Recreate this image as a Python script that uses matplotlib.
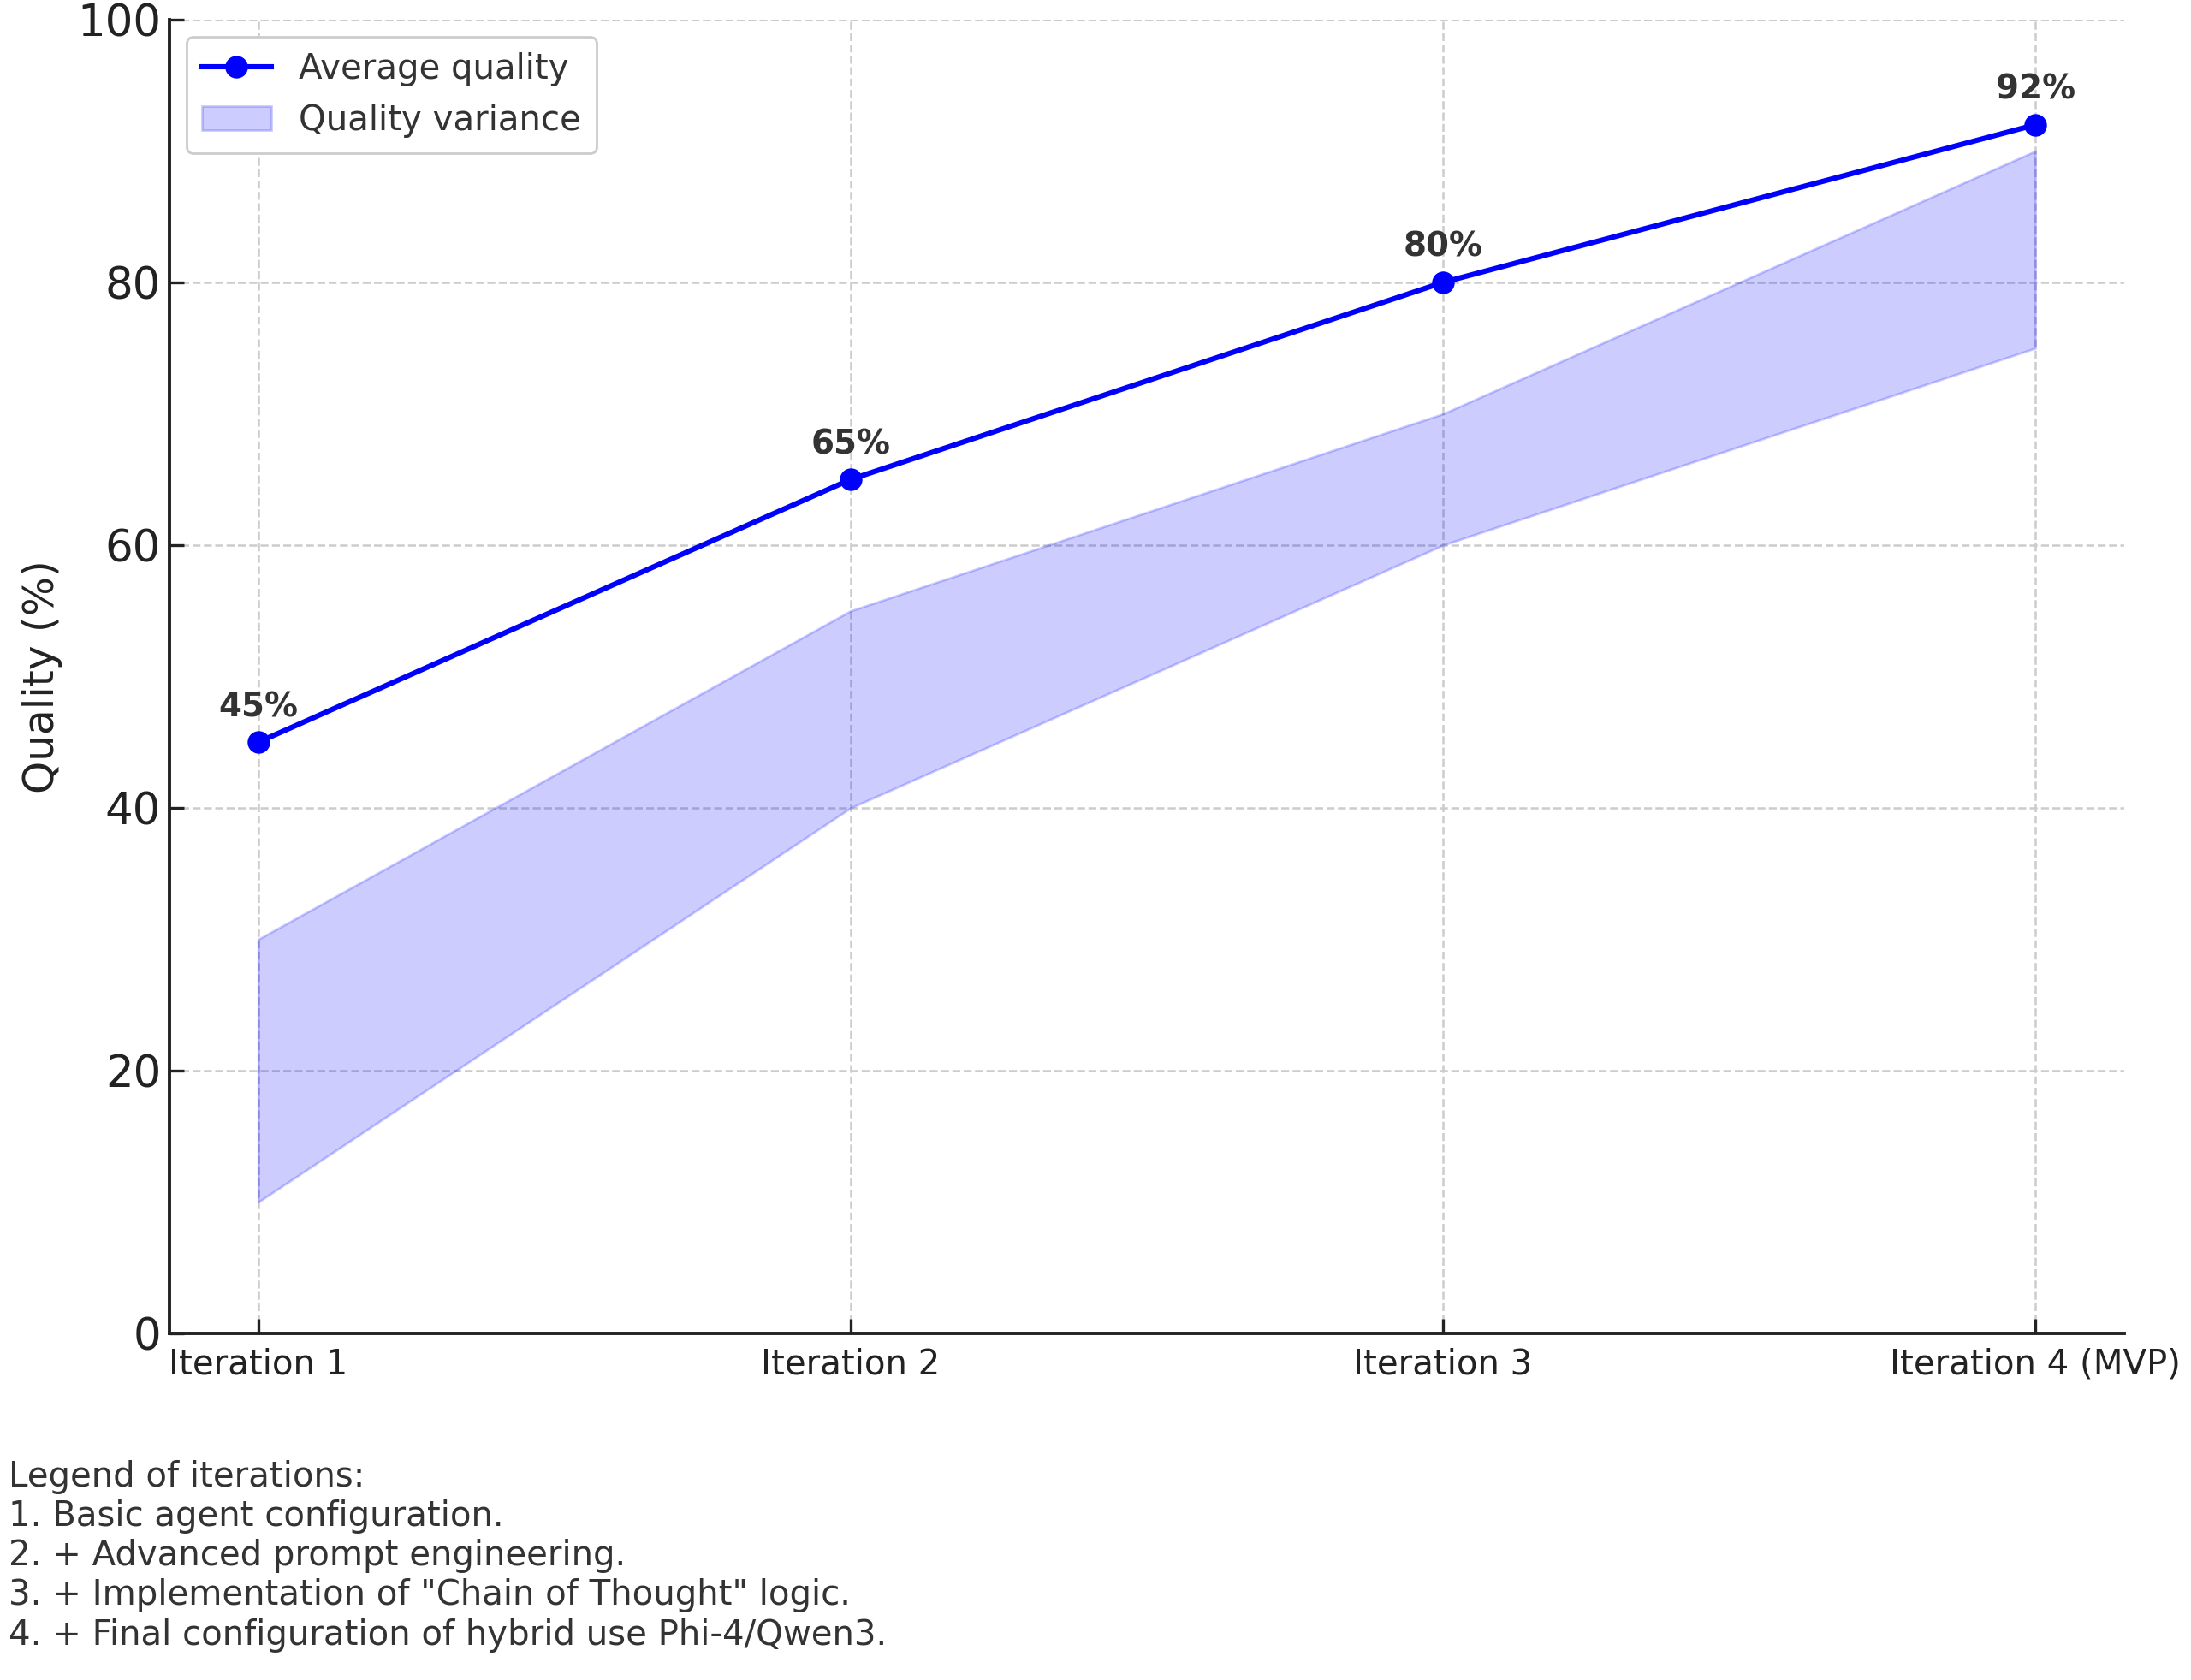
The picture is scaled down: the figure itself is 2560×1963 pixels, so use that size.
import matplotlib.pyplot as plt
import numpy as np

iterations = ["Iteration 1", "Iteration 2", "Iteration 3", "Iteration 4 (MVP)"]
avg_quality = [45, 65, 80, 92]
var_low = [10, 40, 60, 75]
var_high = [30, 55, 70, 90]
notes = [
    "Legend of iterations:",
    "1. Basic agent configuration.",
    "2. + Advanced prompt engineering.",
    "3. + Implementation of \"Chain of Thought\" logic.",
    "4. + Final configuration of hybrid use Phi-4/Qwen3.",
]

x = np.arange(len(iterations))

fig = plt.figure(figsize=(12.8, 9.815), dpi=200)
ax = fig.add_axes([0.0773, 0.2063, 0.8922, 0.782])

ax.fill_between(x, var_low, var_high, color="blue", alpha=0.2, label="Quality variance")
ax.plot(x, avg_quality, color="blue", lw=2.2, marker="o", markersize=8.5, label="Average quality")

for xi, v in zip(x, avg_quality):
    ax.annotate(f"{v}%", (xi, v), xytext=(0, 8), textcoords="offset points",
                ha="center", va="bottom", fontsize=14, fontweight="bold", color="#333333")

ax.set_xlim(-0.15, 3.15)
ax.set_ylim(0, 100)
ax.set_xticks(x)
ax.set_xticklabels(iterations, fontsize=14.5, color="#222222")
ax.set_yticks([0, 20, 40, 60, 80, 100])
ax.tick_params(axis="y", labelsize=18.5, colors="#222222", direction="in", length=6, width=1.2)
ax.tick_params(axis="x", direction="in", length=6, width=1.2, colors="#222222", pad=6)
ax.set_ylabel("Quality (%)", fontsize=17.5, color="#222222", labelpad=6)

ax.grid(True, linestyle="--", color="#cccccc", linewidth=0.9)
ax.set_axisbelow(True)
for s in ["top", "right"]:
    ax.spines[s].set_visible(False)
for s in ["left", "bottom"]:
    ax.spines[s].set_color("#222222")
    ax.spines[s].set_linewidth(1.4)

handles, labels = ax.get_legend_handles_labels()
leg = ax.legend(handles[::-1], labels[::-1], loc="upper left", fontsize=14.5,
                bbox_to_anchor=(0.0, 1.0), frameon=True, fancybox=True,
                edgecolor="#cccccc", framealpha=1.0, borderpad=0.45)
for t in leg.get_texts():
    t.set_color("#333333")

fig.text(0.004, 0.131, "\n".join(notes), ha="left", va="top", fontsize=14.5,
         color="#333333", linespacing=1.2)

fig.savefig("out.png", dpi=200)
